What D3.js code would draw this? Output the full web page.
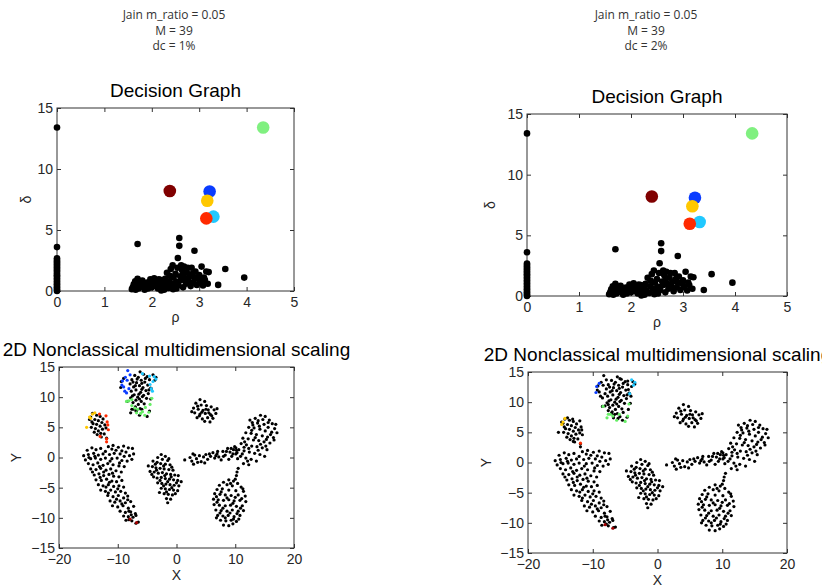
<!DOCTYPE html>
<html>
<head>
<meta charset="utf-8">
<script src="https://d3js.org/d3.v7.min.js"></script>
<style>
  body { margin: 0; background: #fff; }
  svg text { font-family: "Liberation Sans", Arial, sans-serif; fill: #262626; }
  .hdr { font-size: 12px; fill: #333; font-family: "Open Sans", "Liberation Sans", sans-serif; }
  .ttl { font-size: 19px; fill: #000; }
  .tick text { font-size: 14px; }
</style>
</head>
<body>
<script>
// header lines of the two runs
var headerLeft = ["Jain m_ratio = 0.05", "M = 39", "dc = 1%"];
var headerRight = ["Jain m_ratio = 0.05", "M = 39", "dc = 2%"];

// decision graph: points with rho = 0
var rhoZero = [0.0, 0.08, 0.18, 0.3, 0.42, 0.55, 0.66, 0.8, 0.92, 1.05, 1.18, 1.3, 1.42, 1.55,
  1.68, 1.8, 1.92, 2.05, 2.18, 2.3, 2.42, 2.55, 2.68, 3.6, 13.4];

// decision graph: other black points [rho, delta]
var decisionPts = [[1.6,0.3],[1.62,0.55],[1.65,0.8],[1.68,0.4],[1.7,1.0],[1.72,0.2],[1.75,0.65],
  [1.78,0.35],[1.8,0.85],[1.83,0.5],[1.87,0.25],[1.9,0.7],[1.94,0.45],[1.97,0.95],[2.0,0.3],
  [2.02,0.6],[2.05,1.05],[2.08,0.4],[2.1,0.8],[2.13,0.2],[2.16,0.55],[2.19,0.9],[2.2,0.05],
  [2.22,0.35],[2.25,0.7],[2.28,1.0],[2.3,0.45],[2.32,1.5],[2.35,0.25],[2.37,0.8],[2.4,1.8],
  [2.42,0.6],[2.44,2.1],[2.46,1.1],[2.48,0.35],[2.5,1.4],[2.52,0.75],[2.54,1.9],[2.55,2.7],
  [2.56,0.5],[2.58,4.35],[2.58,3.7],[2.6,1.2],[2.62,0.9],[2.64,1.7],[2.66,0.3],[2.68,2.0],
  [2.7,1.0],[2.72,0.6],[2.74,1.5],[2.76,1.9],[2.78,0.8],[2.8,1.2],[2.82,0.4],[2.84,1.9],
  [2.86,1.4],[2.88,0.7],[2.9,3.3],[2.9,1.1],[2.92,1.6],[2.95,0.5],[2.98,1.0],[3.0,1.3],
  [3.02,0.75],[3.05,2.0],[3.08,0.45],[3.1,1.1],[3.12,0.9],[3.15,1.6],[3.18,0.6],[3.2,1.55],
  [1.7,3.85],[3.4,0.5],[3.55,1.8],[3.95,1.1],[1.58,0.15],[1.85,0.1],[2.15,0.95],[2.45,0.15],
  [2.66,1.3],[2.38,1.25],[2.62,2.1],[1.66,0.1],[1.92,0.2],[2.26,0.1],[2.52,0.2]];

// cluster centres [rho, delta, colour]
var centersLeft = [[4.35,13.4,"#80f080"],[2.38,8.2,"#800000"],[3.22,8.15,"#0a3cff"],
  [3.17,7.4,"#ffc800"],[3.3,6.1,"#20c8ff"],[3.15,5.95,"#ff2a00"]];
var centersRight = [[4.33,13.4,"#80f080"],[2.4,8.2,"#800000"],[3.23,8.1,"#0a3cff"],
  [3.18,7.4,"#ffc800"],[3.32,6.1,"#20c8ff"],[3.13,5.95,"#ff2a00"]];

// MDS embedding, black points [x, y]
var mdsTop = [[-6.2,14.2],[-5.6,13.8],[-7.1,13.6],[-6.5,13.3],[-5.0,13.4],[-4.6,12.9],[-7.6,12.9],
  [-6.0,12.8],[-5.4,12.5],[-6.8,12.4],[-7.9,12.2],[-4.9,12.0],[-6.3,11.9],[-7.3,11.7],[-5.7,11.6],
  [-4.4,11.5],[-6.9,11.2],[-5.2,11.1],[-7.7,11.0],[-6.1,10.8],[-4.8,10.6],[-7.2,10.4],[-5.6,10.3],
  [-6.6,10.0],[-7.8,9.9],[-5.1,9.8],[-6.9,9.5],[-6.0,9.3],[-7.4,9.1],[-6.5,8.8],[-5.5,8.9],
  [-7.0,8.4],[-6.2,8.1],[-6.8,7.8],[-5.9,12.3],[-6.7,13.0],[-5.3,13.1],[-7.4,12.5],[-4.7,11.2],
  [-6.4,10.5],[-5.9,11.3],[-7.0,11.9],[-6.3,9.7],[-5.8,10.1],[-7.5,10.2]];
var mdsSmall = [[-13.6,7.0],[-13.0,6.8],[-12.5,6.4],[-13.9,6.3],[-13.3,6.1],[-12.7,5.8],[-14.2,5.6],
  [-13.6,5.5],[-12.2,5.4],[-13.0,5.2],[-14.5,5.0],[-13.8,4.8],[-12.6,4.7],[-13.3,4.4],[-14.0,4.2],
  [-12.9,4.0],[-13.5,3.8],[-12.3,3.9],[-12.0,4.9],[-14.4,5.9],[-12.8,3.4]];
var mdsCrescent = [[-15.2,1.2],[-14.4,1.6],[-13.7,1.3],[-12.9,1.5],[-11.6,1.8],[-10.8,2.0],[-9.9,1.7],
  [-9.0,1.9],[-8.2,1.6],[-7.5,1.5],[-10.3,1.2],[-12.1,1.0],[-8.6,0.9],[-7.3,0.6],
  [-15.8,0.3],[-15.0,0.5],[-14.1,0.7],[-13.3,0.4],[-12.5,0.6],[-11.4,0.5],[-10.6,0.7],[-9.6,0.6],
  [-8.9,0.2],[-8.0,0.3],[-7.6,-0.3],[-15.5,-0.4],[-14.6,-0.2],[-13.8,-0.1],[-12.9,-0.3],[-12.1,-0.1],
  [-11.0,-0.2],[-10.1,-0.1],[-9.3,-0.5],[-8.4,-0.6],
  [-15.0,-1.0],[-14.2,-1.2],[-13.4,-0.9],[-12.5,-1.3],[-11.7,-1.0],[-10.8,-1.2],[-9.8,-1.4],
  [-8.9,-1.5],[-14.6,-1.9],[-13.7,-2.0],[-12.9,-1.8],[-12.0,-2.1],[-11.2,-1.9],[-10.3,-2.2],[-9.4,-2.4],
  [-14.0,-2.9],[-13.2,-2.7],[-12.4,-3.0],[-11.5,-2.8],[-10.7,-3.1],[-9.8,-3.2],[-13.7,-3.7],
  [-12.8,-3.8],[-11.9,-3.6],[-11.0,-3.9],[-10.2,-4.0],[-9.3,-3.8],
  [-13.3,-4.5],[-12.5,-4.7],[-11.6,-4.5],[-10.7,-4.8],[-9.8,-4.7],[-9.0,-4.9],[-12.9,-5.4],
  [-12.1,-5.6],[-11.2,-5.4],[-10.4,-5.7],[-9.5,-5.6],[-8.7,-5.9],[-11.7,-6.3],[-10.8,-6.5],
  [-9.9,-6.3],[-9.0,-6.7],[-8.3,-6.4],
  [-11.3,-7.2],[-10.5,-7.4],[-9.6,-7.2],[-8.7,-7.5],[-7.8,-7.3],[-10.9,-8.0],[-10.0,-8.2],
  [-9.1,-8.0],[-8.2,-8.4],[-7.3,-8.1],[-9.6,-8.9],[-8.7,-9.1],[-7.8,-9.0],[-7.0,-9.3],
  [-9.0,-9.7],[-8.2,-9.8],[-7.4,-9.9],[-6.9,-9.6],[-8.6,-10.4],[-7.6,-10.5],[-6.5,-10.7],
  [-14.9,0.0],[-13.1,-1.5],[-11.3,-0.6],[-9.7,-0.9],[-12.4,-2.4],[-10.9,-2.6],[-13.0,-3.3],
  [-11.4,-4.1],[-10.0,-5.2],[-11.6,-5.9],[-9.3,-7.7],[-10.2,-6.9],[-8.1,-8.9],[-14.3,-2.4],
  [-13.9,0.2],[-11.0,1.4],[-9.3,1.1],[-12.0,-4.9],[-8.3,-7.0],[-7.7,-9.5]];
var mdsDiamond = [[-2.6,0.5],[-1.9,0.2],[-3.2,0.0],[-2.4,-0.3],[-1.5,-0.5],[-4.0,-0.6],[-3.3,-0.8],
  [-2.7,-1.0],[-1.9,-1.1],[-1.1,-1.2],[-4.8,-1.4],[-4.1,-1.5],[-3.5,-1.7],[-2.8,-1.8],[-2.1,-1.9],
  [-1.3,-2.0],[-0.6,-2.1],[-4.5,-2.3],[-3.8,-2.4],[-3.1,-2.6],[-2.4,-2.5],[-1.7,-2.7],[-1.0,-2.8],
  [-0.3,-2.9],[0.3,-3.0],[-3.9,-3.2],[-3.3,-3.4],[-2.6,-3.3],[-1.9,-3.5],[-1.2,-3.6],[-0.5,-3.7],
  [0.2,-3.8],[0.8,-4.0],[-3.2,-4.2],[-2.5,-4.3],[-1.8,-4.4],[-1.1,-4.5],[-0.4,-4.6],[0.4,-4.7],
  [-2.6,-5.1],[-1.9,-5.2],[-1.2,-5.3],[-0.5,-5.4],[0.2,-5.5],[-2.1,-6.0],[-1.4,-6.1],[-0.7,-6.2],
  [-1.7,-6.8],[-1.0,-6.9],[-1.5,-7.5],[-2.9,-5.8],[-3.6,-1.1],[-2.2,-1.4],[-0.8,-1.6],[-4.2,-2.8],
  [-2.0,-3.0],[-0.9,-3.2],[-2.8,-3.8],[-1.5,-4.0],[0.0,-4.2],[-2.2,-4.7],[-0.8,-5.0],[-1.7,-5.7],
  [-0.2,-6.0],[-3.4,-2.1],[-1.3,-0.2]];
var mdsIsland = [[4.0,9.6],[4.8,9.3],[3.3,9.0],[4.2,8.7],[5.1,8.6],[5.9,8.4],[2.9,8.2],[3.7,8.0],
  [4.5,7.8],[5.4,7.9],[6.4,7.9],[3.1,7.4],[4.0,7.2],[4.9,7.3],[5.8,7.1],[6.7,7.3],[3.5,6.6],
  [4.4,6.4],[5.3,6.6],[6.2,6.5],[4.8,6.0],[5.7,5.9],[2.6,7.6],[6.9,8.1],[3.6,8.5],[5.0,8.0],
  [4.3,7.5],[5.5,7.4],[3.9,6.9],[6.0,6.9]];
var mdsBand = [[1.4,-0.4],[2.3,0.0],[2.6,-0.6],[3.1,0.4],[3.4,-0.2],[3.9,0.3],[4.2,-0.7],[4.6,0.1],
  [5.0,0.5],[5.3,-0.3],[5.8,0.2],[6.2,0.8],[6.5,-0.1],[6.9,0.6],[7.2,0.1],[7.6,-0.4],[7.9,1.0],
  [8.3,0.4],[8.7,1.5],[9.1,0.9],[9.4,0.2],[9.7,1.3],[10.1,0.6],[10.4,-0.2],[9.9,1.8],[8.9,-0.3],
  [2.9,-1.1],[4.8,-0.9],[2.8,0.6],[3.6,-0.8],[5.6,0.6],[6.7,0.3],[7.0,1.0],[8.0,0.2],[9.3,1.5],
  [9.6,0.6],[8.5,1.0],[10.2,1.2]];
var mdsRight = [[14.3,7.0],[15.1,6.8],[13.4,6.5],[14.7,6.3],[15.8,6.2],[16.3,5.6],[12.9,5.8],
  [13.8,5.7],[14.9,5.5],[15.6,5.0],[16.7,4.8],[12.3,5.0],[13.2,4.9],[14.2,4.7],[15.1,4.4],
  [16.2,4.2],[17.1,4.1],[11.8,4.1],[12.7,4.0],[13.6,3.8],[14.6,3.6],[15.5,3.4],[16.5,3.3],
  [11.3,3.2],[12.2,3.1],[13.1,2.9],[14.0,2.8],[14.9,2.6],[15.9,2.4],[11.0,2.3],[11.9,2.1],
  [12.8,1.9],[13.7,1.8],[14.6,1.6],[15.4,1.3],[10.6,1.3],[11.5,1.1],[12.4,0.9],[13.3,0.7],
  [14.2,0.5],[15.0,0.2],[10.9,0.2],[11.8,-0.1],[12.7,-0.3],[13.6,-0.6],[11.4,-1.0],[12.3,-1.2],
  [13.9,6.1],[12.5,6.2],[16.9,5.5],[10.3,0.8],[10.1,1.6],[14.1,5.2],[15.6,5.8],[12.8,4.5],
  [16.0,3.8],[13.4,3.3],[11.6,2.6],[15.3,3.0],[12.3,1.5],[14.3,2.2],[11.2,0.6],[13.9,1.2],
  [12.1,-0.6],[16.6,2.9],[13.0,5.4],[15.2,1.9],[11.5,1.7],
  [10.5,-1.8],[10.3,-2.4],[10.2,-3.0],[10.0,-3.6]];
var mdsBottom = [[8.9,-3.7],[9.7,-3.9],[8.0,-4.1],[10.4,-4.3],[7.3,-4.6],[8.6,-4.5],[9.5,-4.7],
  [11.0,-4.9],[6.9,-5.3],[7.8,-5.2],[8.9,-5.4],[10.1,-5.5],[11.4,-5.6],[6.5,-6.0],[7.4,-6.1],
  [8.3,-6.2],[9.3,-6.3],[10.5,-6.2],[11.7,-6.4],[6.3,-6.9],[7.1,-7.0],[8.0,-7.1],[8.9,-7.0],
  [9.8,-7.2],[10.8,-7.1],[11.8,-7.3],[6.4,-7.8],[7.3,-7.9],[8.3,-8.0],[9.2,-7.9],[10.2,-8.1],
  [11.2,-8.0],[6.7,-8.7],[7.6,-8.8],[8.6,-8.9],[9.5,-8.7],[10.5,-8.9],[11.4,-8.8],[7.0,-9.6],
  [7.9,-9.7],[8.8,-9.6],[9.8,-9.8],[10.8,-9.6],[7.5,-10.4],[8.4,-10.5],[9.3,-10.4],[10.2,-10.6],
  [8.0,-11.2],[8.9,-11.3],[9.6,-11.0],[10.6,-10.2],[6.8,-10.0],[9.2,-4.3],[7.6,-5.7],[10.0,-6.6],
  [8.6,-6.7],[11.1,-6.8],[6.9,-7.4],[9.6,-7.6],[7.9,-8.4],[10.9,-8.4],[9.1,-9.2],[7.4,-9.2],
  [10.3,-9.3],[8.3,-10.0],[9.7,-10.2],[11.3,-5.2],[6.8,-6.5]];

// points that carry a cluster colour in the dc = 1% run
var colBlue1 = [[-8.3,14.4],[-8.7,13.3],[-9.2,12.7],[-8.4,12.8],[-9.0,11.7],[-8.1,11.4],[-8.8,11.0],
  [-8.5,10.7],[-7.9,13.7],[-9.3,12.0]];
var colCyan1 = [[-5.8,13.9],[-4.6,13.5],[-3.8,13.4],[-3.5,13.0],[-4.0,12.6],[-4.5,12.1],[-4.3,11.4],[-4.1,11.0]];
var colGreen1 = [[-8.1,9.4],[-8.5,9.3],[-7.6,9.6],[-4.2,9.8],[-7.1,8.2],[-6.6,8.0],[-6.8,7.4],[-5.3,8.3],
  [-4.5,8.8],[-5.8,7.6],[-4.7,7.5],[-5.4,7.0],[-7.6,8.6],[-6.1,7.3]];
var colYellow1 = [[-14.6,6.5],[-14.3,7.2],[-13.9,7.4],[-14.8,6.7],[-15.3,5.0]];
var colRed1 = [[-13.1,7.2],[-12.0,6.9],[-11.8,5.9],[-11.7,5.4],[-11.6,4.6],[-13.0,3.5],[-11.9,3.1],[-11.9,2.6]];
var colDark1 = [[-7.9,-10.2],[-6.8,-10.8]];

// points that carry a cluster colour in the dc = 2% run
var colBlue2 = [[-9.5,11.6],[-9.4,12.6],[-9.0,13.1]];
var colCyan2 = [[-4.0,13.7],[-3.5,13.3],[-3.7,12.8],[-4.3,11.4]];
var colGreen2 = [[-8.4,9.3],[-7.6,8.0],[-7.3,8.0],[-7.8,7.4],[-6.9,7.7],[-6.3,7.0],[-5.9,8.0],
  [-5.0,6.8],[-4.6,7.7],[-4.4,9.7]];
var colYellow2 = [[-14.8,6.3],[-14.6,6.7],[-14.3,7.3]];
var colRed2 = [[-11.9,3.2]];
var colDark2 = [[-8.1,-10.3],[-6.9,-10.9]];

var cBlue = "#0a3cff", cCyan = "#20c8ff", cGreen = "#66ee66", cYellow = "#ffc800",
    cRed = "#ff2a00", cDark = "#a00000";

var mdsBlack = [].concat(mdsTop, mdsSmall, mdsCrescent, mdsDiamond, mdsIsland, mdsBand, mdsRight, mdsBottom);

var svg = d3.select("body").append("svg").attr("width", 822).attr("height", 588);

function header(lines, cx){
  svg.selectAll(null).data(lines).enter().append("text")
    .attr("class", "hdr").attr("x", cx).attr("y", function(d, i){ return 19 + i * 15.5; })
    .attr("text-anchor", "middle").text(function(d){ return d; });
}
header(headerLeft, 174);
header(headerRight, 646);

function axesBox(o){
  var g = svg.append("g");
  var x = d3.scaleLinear().domain(o.xd).range([o.x0, o.x1]);
  var y = d3.scaleLinear().domain(o.yd).range([o.y1, o.y0]);
  var fmt = d3.format("d");

  g.append("g").attr("class", "ax").attr("transform", "translate(0," + o.y1 + ")")
    .call(d3.axisBottom(x).tickValues(o.xt).tickFormat(fmt).tickSizeInner(-4).tickSizeOuter(0).tickPadding(6));
  g.append("g").attr("class", "ax").attr("transform", "translate(" + o.x0 + ",0)")
    .call(d3.axisLeft(y).tickValues(o.yt).tickFormat(fmt).tickSizeInner(-4).tickSizeOuter(0).tickPadding(4));
  g.append("g").attr("class", "ax").attr("transform", "translate(0," + o.y0 + ")")
    .call(d3.axisTop(x).tickValues(o.xt).tickSizeInner(-4).tickSizeOuter(0).tickFormat(""));
  g.append("g").attr("class", "ax").attr("transform", "translate(" + o.x1 + ",0)")
    .call(d3.axisRight(y).tickValues(o.yt).tickSizeInner(-4).tickSizeOuter(0).tickFormat(""));
  g.selectAll(".ax .domain").remove();
  g.selectAll(".ax line").attr("stroke", "#333");

  g.append("rect").attr("x", o.x0).attr("y", o.y0)
    .attr("width", o.x1 - o.x0).attr("height", o.y1 - o.y0)
    .attr("fill", "none").attr("stroke", "#333").attr("stroke-width", 1);

  svg.append("text").attr("class", "ttl").attr("x", (o.x0 + o.x1) / 2).attr("y", o.ty)
    .attr("text-anchor", "middle").text(o.title);
  svg.append("text").attr("x", (o.x0 + o.x1) / 2).attr("y", o.xly)
    .attr("text-anchor", "middle").style("font-size", "14px").text(o.xl);
  svg.append("text").attr("transform", "translate(" + o.ylx + "," + (o.y0 + o.y1) / 2 + ") rotate(-90)")
    .attr("text-anchor", "middle").style("font-size", "14px").text(o.yl);
  return {x: x, y: y, g: g};
}

function decision(o, centers){
  var a = axesBox(o);
  a.g.selectAll("circle.z").data(rhoZero).enter().append("circle")
    .attr("cx", a.x(0)).attr("cy", function(d){ return a.y(d); })
    .attr("r", 3.3).attr("fill", "#000");
  a.g.selectAll("circle.p").data(decisionPts).enter().append("circle")
    .attr("cx", function(d){ return a.x(d[0]); }).attr("cy", function(d){ return a.y(d[1]); })
    .attr("r", 3.3).attr("fill", "#000");
  a.g.selectAll("circle.c").data(centers).enter().append("circle")
    .attr("cx", function(d){ return a.x(d[0]); }).attr("cy", function(d){ return a.y(d[1]); })
    .attr("r", 6.3).attr("fill", function(d){ return d[2]; });
}

function mds(o, colored){
  var a = axesBox(o);
  var all = mdsBlack.map(function(d){ return [d[0], d[1], "#000"]; });
  // points coloured in the other run are drawn black here
  colored.other.forEach(function(s){ s.forEach(function(d){ all.push([d[0], d[1], "#000"]); }); });
  colored.own.forEach(function(s){ s[0].forEach(function(d){ all.push([d[0], d[1], s[1]]); }); });
  a.g.selectAll("circle.m").data(all).enter().append("circle")
    .attr("cx", function(d){ return a.x(d[0]); }).attr("cy", function(d){ return a.y(d[1]); })
    .attr("r", 1.6).attr("fill", function(d){ return d[2]; });
}

var run1 = [colBlue1, colCyan1, colGreen1, colYellow1, colRed1, colDark1];
var run2 = [colBlue2, colCyan2, colGreen2, colYellow2, colRed2, colDark2];
var cols = [cBlue, cCyan, cGreen, cYellow, cRed, cDark];

decision({x0: 57, x1: 294, y0: 108, y1: 291, xd: [0, 5], yd: [0, 15],
  xt: [0, 1, 2, 3, 4, 5], yt: [0, 5, 10, 15], title: "Decision Graph", ty: 97,
  xl: "ρ", xly: 322, yl: "δ", ylx: 31}, centersLeft);
decision({x0: 527, x1: 787, y0: 114, y1: 296, xd: [0, 5], yd: [0, 15],
  xt: [0, 1, 2, 3, 4, 5], yt: [0, 5, 10, 15], title: "Decision Graph", ty: 103,
  xl: "ρ", xly: 327, yl: "δ", ylx: 495}, centersRight);

mds({x0: 59, x1: 294, y0: 367, y1: 548, xd: [-20, 20], yd: [-15, 15],
  xt: [-20, -10, 0, 10, 20], yt: [-15, -10, -5, 0, 5, 10, 15],
  title: "2D Nonclassical multidimensional scaling", ty: 356,
  xl: "X", xly: 580, yl: "Y", ylx: 21},
  {own: run1.map(function(s, i){ return [s, cols[i]]; }), other: run2});
mds({x0: 528, x1: 787, y0: 372, y1: 553, xd: [-20, 20], yd: [-15, 15],
  xt: [-20, -10, 0, 10, 20], yt: [-15, -10, -5, 0, 5, 10, 15],
  title: "2D Nonclassical multidimensional scaling", ty: 361,
  xl: "X", xly: 585, yl: "Y", ylx: 491},
  {own: run2.map(function(s, i){ return [s, cols[i]]; }), other: run1});
</script>
</body>
</html>
